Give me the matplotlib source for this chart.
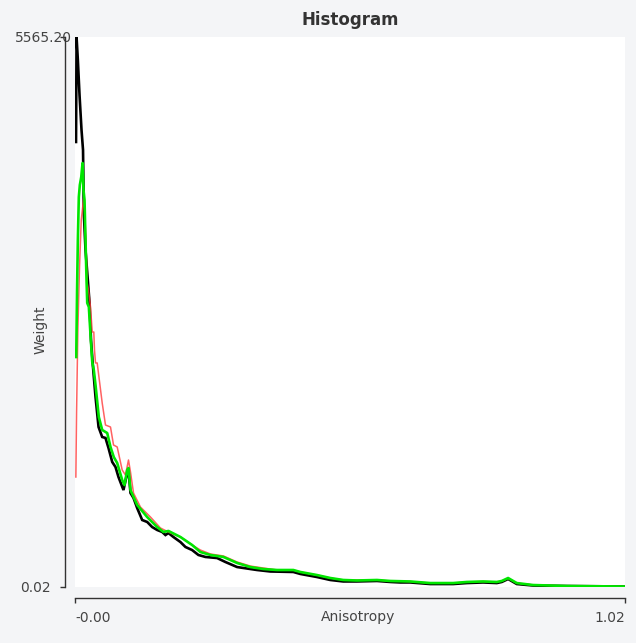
import matplotlib
matplotlib.use("Agg")
import matplotlib.pyplot as plt
from matplotlib.transforms import ScaledTranslation

# histogram curves (anisotropy -> weight)
black_x = [0.0009, 0.0019, 0.0043, 0.0074, 0.0111, 0.0139, 0.0154, 0.0185, 0.0228, 0.0260,
           0.0287, 0.0321, 0.0371, 0.0427, 0.0495, 0.0556, 0.0612, 0.0681, 0.0742, 0.0797,
           0.0890, 0.0959, 0.0983, 0.1020, 0.1076, 0.1144, 0.1237, 0.1330, 0.1422, 0.1515,
           0.1608, 0.1669, 0.1725, 0.1817, 0.1947, 0.2040, 0.2164, 0.2281, 0.2411, 0.2628,
           0.2782, 0.2999, 0.3245, 0.3370, 0.3616, 0.4043, 0.4173, 0.4482, 0.4729, 0.4970,
           0.5224, 0.5595, 0.5842, 0.6027, 0.6213, 0.6583, 0.7010, 0.7264, 0.7566, 0.7820,
           0.7913, 0.8030, 0.8191, 0.8494, 0.9119, 1.0200]
black_y = [4503, 5565, 5332, 4978, 4624, 4422, 3784, 3410, 3106, 2874,
           2499, 2246, 1923, 1619, 1518, 1508, 1406, 1265, 1214, 1113,
           981, 1153, 1184, 951, 901, 799, 678, 658, 607, 577,
           557, 526, 546, 506, 455, 405, 374, 324, 304, 293,
           253, 202, 182, 172, 157, 152, 132, 101, 71, 56,
           56, 61, 51, 46, 46, 30, 30, 40, 46, 40,
           51, 81, 30, 15, 10, 5]

red_x = [0.0006, 0.0019, 0.0043, 0.0074, 0.0106, 0.0154, 0.0185, 0.0217, 0.0241, 0.0278,
         0.0310, 0.0339, 0.0352, 0.0371, 0.0402, 0.0495, 0.0556, 0.0649, 0.0705, 0.0773,
         0.0866, 0.0927, 0.0983, 0.1020, 0.1076, 0.1205, 0.1391, 0.1576, 0.1762, 0.1947,
         0.2164, 0.2318, 0.2504, 0.2745, 0.2999, 0.3245, 0.3487, 0.3741, 0.4043, 0.4173,
         0.4482, 0.4729, 0.4970, 0.5224, 0.5595, 0.5842, 0.6213, 0.6583, 0.7010, 0.7264,
         0.7566, 0.7820, 0.7913, 0.8030, 0.8191, 0.8494, 0.9119, 1.0200]
red_y = [1113, 1761, 2600, 3238, 3714, 3946, 3612, 3076, 3005, 2833,
         2580, 2580, 2398, 2267, 2267, 1862, 1639, 1619, 1437, 1417,
         1184, 1133, 1285, 1164, 951, 809, 708, 597, 546, 506,
         425, 374, 334, 314, 253, 212, 192, 172, 172, 152,
         121, 91, 71, 71, 71, 61, 56, 40, 40, 51,
         56, 51, 61, 86, 40, 20, 10, 5]

green_x = [0.0013, 0.0028, 0.0043, 0.0061, 0.0080, 0.0106, 0.0130, 0.0148, 0.0167, 0.0185,
           0.0204, 0.0217, 0.0247, 0.0278, 0.0310, 0.0339, 0.0371, 0.0432, 0.0495, 0.0588,
           0.0649, 0.0710, 0.0773, 0.0866, 0.0909, 0.0959, 0.0983, 0.1020, 0.1144, 0.1330,
           0.1515, 0.1632, 0.1725, 0.1947, 0.2164, 0.2318, 0.2504, 0.2745, 0.2999, 0.3245,
           0.3487, 0.3741, 0.4043, 0.4173, 0.4482, 0.4729, 0.4970, 0.5224, 0.5595, 0.5842,
           0.6213, 0.6583, 0.7010, 0.7264, 0.7566, 0.7820, 0.7913, 0.8030, 0.8191, 0.8494,
           0.9119, 1.0200]
green_y = [2327, 3005, 3511, 3946, 4068, 4149, 4290, 4017, 3916, 3511,
           3106, 2874, 2833, 2550, 2277, 2196, 2044, 1720, 1589, 1558,
           1417, 1315, 1255, 1083, 1032, 1184, 1204, 981, 830, 708,
           607, 557, 567, 506, 425, 354, 324, 304, 243, 202,
           182, 172, 172, 152, 121, 91, 71, 66, 71, 61,
           56, 40, 40, 51, 56, 51, 61, 91, 40, 20,
           10, 5]

x_ticks = [-0.001, 1.02]
x_labels = ["-0.00", "1.02"]
y_ticks = [0.02, 5565.20]
y_labels = ["0.02", "5565.20"]

bg = "#f4f5f7"
txt = "#444444"

fig = plt.figure(figsize=(6.36, 6.43), dpi=100, facecolor=bg)
ax = fig.add_axes([75 / 636, 56 / 643, 550 / 636, 550 / 643])
ax.set_facecolor("white")

ax.plot(black_x, black_y, color="black", lw=1.9, solid_joinstyle="miter")
ax.plot(red_x, red_y, color="#ff3b3b", lw=1.1, alpha=0.8)
ax.plot(green_x, green_y, color="#00e600", lw=1.9)

ax.set_xlim(x_ticks[0], x_ticks[1])
ax.set_ylim(y_ticks[0], y_ticks[1])

for s in ["top", "right"]:
    ax.spines[s].set_visible(False)
ax.spines["left"].set_position(("outward", 7.2))
ax.spines["bottom"].set_position(("outward", 7.9))
for s in ["left", "bottom"]:
    ax.spines[s].set_color("#333333")
    ax.spines[s].set_linewidth(1.0)

ax.set_xticks(x_ticks)
ax.set_xticklabels(x_labels)
ax.set_yticks(y_ticks)
ax.set_yticklabels(y_labels)
ax.tick_params(axis="both", colors="#333333", labelcolor=txt, labelsize=10,
               length=3.6, width=1.0)
ax.tick_params(axis="y", pad=6.5)
ax.tick_params(axis="x", pad=5.5)

xl = ax.get_xticklabels()
xl[0].set_ha("left")
xl[1].set_ha("right")

# top y label sits further right, overlapping the spine
yl = ax.get_yticklabels()
yl[1].set_transform(yl[1].get_transform() + ScaledTranslation(21 / 100, 0, fig.dpi_scale_trans))

ax.set_xlabel("Anisotropy", fontsize=10, color=txt)
ax.xaxis.set_label_coords(0.515, -0.0545)
ax.xaxis.label.set_va("center")
ax.set_ylabel("Weight", fontsize=10, color=txt)
ax.yaxis.set_label_coords(-0.062, 0.467)
ax.yaxis.label.set_va("center")

fig.text(350 / 636, 1 - 20 / 643, "Histogram", ha="center", va="center",
         fontsize=12, fontweight="bold", color="#333333")

fig.savefig("out.png", dpi=100, facecolor=bg)
